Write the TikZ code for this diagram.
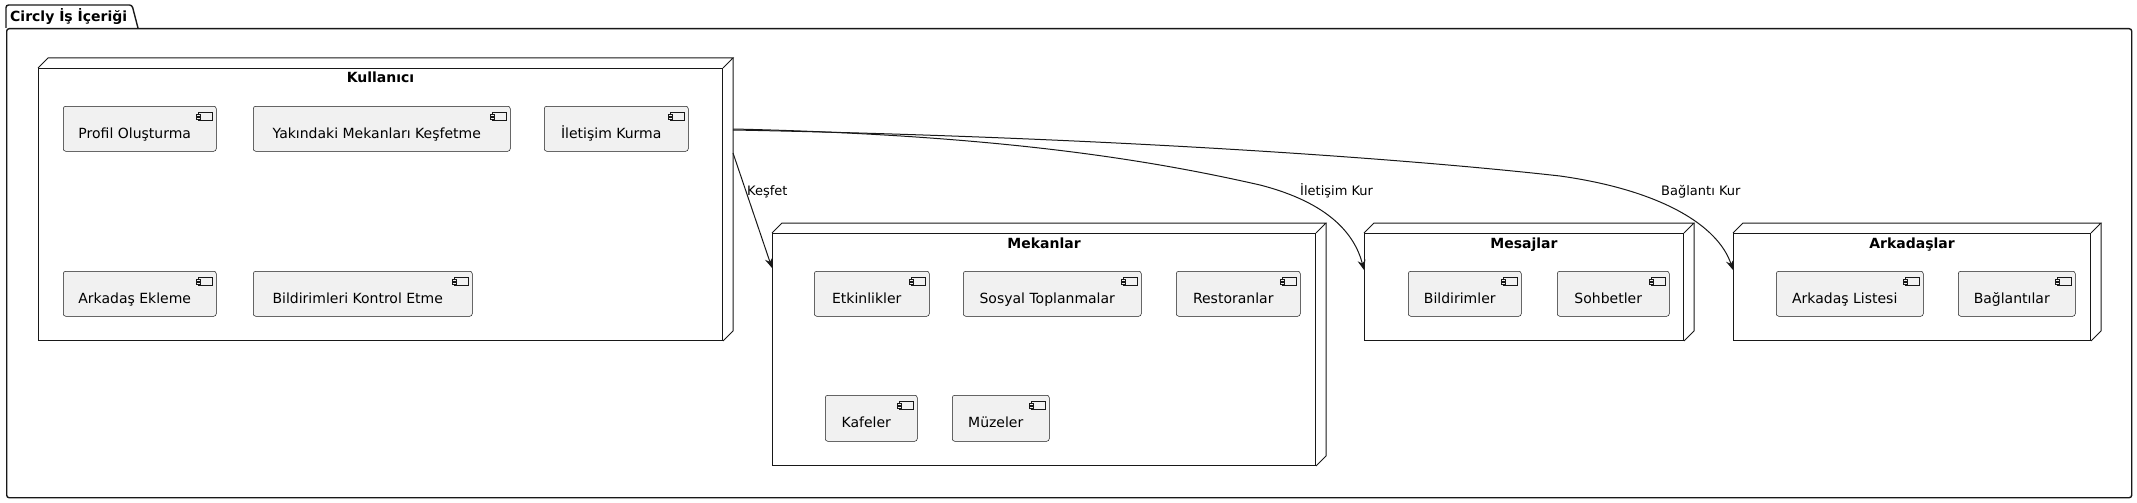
\documentclass[tikz,border=0pt]{standalone}
\usepackage{fontspec}
\setmainfont{DejaVu Sans}
\usetikzlibrary{calc,arrows.meta}
\definecolor{lineC}{HTML}{181818}
\definecolor{compF}{HTML}{F1F1F1}
\tikzset{
  pkgst/.style={draw=lineC, line width=1.4pt, rounded corners=2.5pt, inner sep=0pt},
  dnodest/.style={draw=lineC, line width=1pt, inner sep=0pt},
  dline/.style={draw=lineC, line width=1pt, line join=miter},
  compst/.style={draw=lineC, line width=0.5pt, fill=compF, rounded corners=2.5pt, inner sep=0pt},
  iconst/.style={draw=lineC, line width=0.5pt, fill=compF},
  comptext/.style={inner sep=0pt, font=\fontsize{14}{16}\selectfont},
  titlest/.style={inner sep=0pt, font=\fontsize{14}{16}\selectfont\bfseries},
  lbl/.style={inner sep=0pt, font=\fontsize{13}{15}\selectfont},
  conn/.style={draw=lineC, line width=1pt, -{Stealth[length=10pt,width=8pt,inset=3.5pt]}},
}
\newcommand\comp[6]{%
  \node[compst, minimum width={#4-#2}, minimum height={#5-#3}, anchor=north west] (#1) at (#2,#3) {};
  \node[comptext, anchor=base] (#1t) at ($(#1.north)+(-5,32)$) {#6};
  \draw[iconst] ($(#1.north east)+(-18,6)$) rectangle ($(#1.north east)+(-4,14)$);
  \draw[iconst] ($(#1.north east)+(-20,8)$) rectangle ($(#1.north east)+(-16,10)$);
  \draw[iconst] ($(#1.north east)+(-20,11)$) rectangle ($(#1.north east)+(-16,13)$);
}
\newcommand\dnode[6]{%
  \node[dnodest, minimum width={#4-#2}, minimum height={#5-#3}, anchor=north west] (#1) at (#2,#3) {};
  \draw[dline] (#1.north west) -- ($(#1.north west)+(10,-10)$) -- ($(#1.north east)+(10,-10)$) -- (#1.north east);
  \draw[dline] ($(#1.north east)+(10,-10)$) -- ($(#1.south east)+(10,-10)$) -- (#1.south east);
  \node[titlest, anchor=base] (#1t) at ($(#1.north)+(0,15)$) {#6};
}
\begin{document}
\begin{tikzpicture}[x=1pt,y=-1pt]
\useasboundingbox (0,0) rectangle (2137,503);
% package
\node[pkgst, minimum width=2125, minimum height=469, anchor=north west] (pkg) at (6,28) {};
\draw[pkgst, rounded corners=0pt] (6,28) [rounded corners=2.5pt] -- (6,5) -- (132,5) [rounded corners=0pt] -- (138,28);
\node[titlest, anchor=base west] (pkgt) at (10,22) {Circly İş İçeriği};
% Kullanıcı
\dnode{kul}{38}{68}{722}{340}{Kullanıcı}
\comp{c1}{63}{106}{216}{151}{Profil Oluşturma}
\comp{c2}{253}{106}{510}{151}{Yakındaki Mekanları Keşfetme}
\comp{c3}{544}{106}{688}{151}{İletişim Kurma}
\comp{c4}{63}{271}{216}{316}{Arkadaş Ekleme}
\comp{c5}{253}{271}{472}{316}{Bildirimleri Kontrol Etme}
% Mekanlar
\dnode{mek}{772}{233}{1315}{465}{Mekanlar}
\comp{m1}{814}{271}{929}{316}{Etkinlikler}
\comp{m2}{963}{271}{1141}{316}{Sosyal Toplanmalar}
\comp{m3}{1176}{271}{1300}{316}{Restoranlar}
\comp{m4}{825}{395}{917}{441}{Kafeler}
\comp{m5}{952}{395}{1049}{441}{Müzeler}
% Mesajlar
\dnode{mes}{1364}{233}{1683}{340}{Mesajlar}
\comp{s1}{1408}{271}{1521}{316}{Bildirimler}
\comp{s2}{1557}{271}{1669}{316}{Sohbetler}
% Arkadaşlar
\dnode{ark}{1733}{233}{2090}{340}{Arkadaşlar}
\comp{a1}{1776}{271}{1923}{316}{Arkadaş Listesi}
\comp{a2}{1958}{271}{2075}{316}{Bağlantılar}
% connectors
\draw[conn] ($(kul.north east)+(10,85)$) -- ($(mek.north west)+(0,35)$);
\draw[conn] ($(kul.north east)+(10,61)$) .. controls (1000,135) and (1150,160) .. (1260,185)
   .. controls (1330,203) and (1355,235) .. ($(mes.north west)+(0,37)$);
\draw[conn] ($(kul.north east)+(10,62)$) .. controls (1100,137) and (1400,158) .. (1560,176)
   .. controls (1660,190) and (1718,225) .. ($(ark.north west)+(0,37)$);
\node[lbl, anchor=base west] (l1) at (747,195) {Keşfet};
\node[lbl, anchor=base west] (l2) at (1300,195) {İletişim Kur};
\node[lbl, anchor=base west] (l3) at (1661,195) {Bağlantı Kur};
\end{tikzpicture}
\end{document}
